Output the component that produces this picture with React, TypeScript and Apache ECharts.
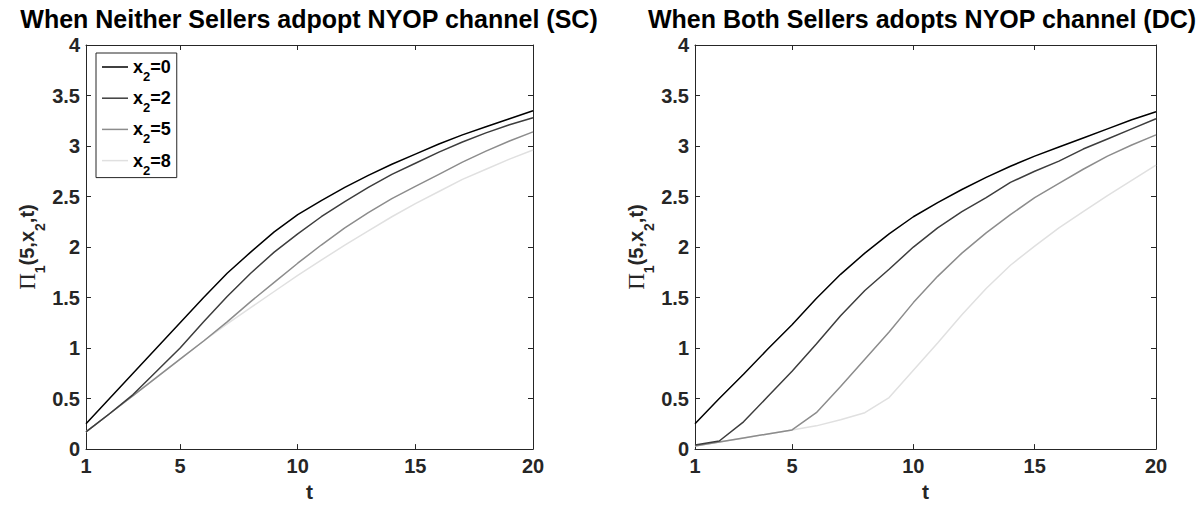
import React, { useEffect, useRef } from "react";
import * as echarts from "echarts";

const T = [1, 2, 3, 4, 5, 6, 7, 8, 9, 10, 11, 12, 13, 14, 15, 16, 17, 18, 19, 20];
const X_TICKS = [1, 5, 10, 15, 20];
const LEVELS = ["x2=0", "x2=2", "x2=5", "x2=8"];
const TITLES = ["When Neither Sellers adpopt NYOP channel (SC)", "When Both Sellers adopts NYOP channel (DC)"];

// Single channel (SC)
const SC_0 = [0.25, 0.5, 0.75, 1.0, 1.25, 1.5, 1.74, 1.95, 2.15, 2.32, 2.46, 2.59, 2.71, 2.82, 2.92, 3.02, 3.11, 3.19, 3.27, 3.35];
const SC_2 = [0.17, 0.35, 0.54, 0.77, 1.0, 1.26, 1.51, 1.74, 1.95, 2.13, 2.3, 2.45, 2.59, 2.72, 2.83, 2.94, 3.04, 3.13, 3.21, 3.28];
const SC_5 = [0.17, 0.35, 0.53, 0.71, 0.89, 1.07, 1.26, 1.46, 1.65, 1.84, 2.02, 2.19, 2.34, 2.48, 2.6, 2.72, 2.84, 2.95, 3.05, 3.14];
const SC_8 = [0.17, 0.35, 0.53, 0.71, 0.89, 1.07, 1.24, 1.4, 1.56, 1.72, 1.87, 2.02, 2.16, 2.3, 2.43, 2.55, 2.67, 2.77, 2.87, 2.96];

// Dual channel (DC)
const DC_0 = [0.25, 0.5, 0.74, 0.99, 1.23, 1.49, 1.73, 1.94, 2.13, 2.3, 2.44, 2.57, 2.69, 2.8, 2.9, 2.99, 3.08, 3.17, 3.26, 3.34];
const DC_2 = [0.04, 0.08, 0.27, 0.52, 0.77, 1.04, 1.32, 1.57, 1.78, 2.0, 2.19, 2.35, 2.49, 2.64, 2.75, 2.85, 2.97, 3.07, 3.17, 3.27];
const DC_5 = [0.03, 0.07, 0.11, 0.15, 0.19, 0.36, 0.62, 0.89, 1.16, 1.45, 1.71, 1.94, 2.14, 2.32, 2.49, 2.63, 2.77, 2.9, 3.01, 3.11];
const DC_8 = [0.03, 0.07, 0.11, 0.15, 0.19, 0.23, 0.29, 0.36, 0.51, 0.78, 1.05, 1.33, 1.59, 1.82, 2.01, 2.19, 2.35, 2.51, 2.66, 2.81];

const SC = [SC_0, SC_2, SC_5, SC_8];
const DC = [DC_0, DC_2, DC_5, DC_8];

const COLORS = ["#000000", "#3d3d3d", "#8c8c8c", "#e0e0e0"];
const AXIS = "#262626";
const SANS = "'Liberation Sans', Arial, Helvetica, sans-serif";
const SERIF = "'Liberation Serif', 'Times New Roman', serif";

const GRIDS = [
  { left: 86, top: 45, width: 447, height: 412 },
  { left: 695, top: 45, width: 461, height: 412 },
];

function buildOption() {
  const xAxis: any[] = [];
  const yAxis: any[] = [];
  const series: any[] = [];
  const lineBase = { show: true, onZero: false, lineStyle: { color: AXIS, width: 1 } };
  const tickBase = { show: true, inside: true, length: 5, lineStyle: { color: AXIS, width: 1 } };

  GRIDS.forEach((_, gi) => {
    xAxis.push({
      type: "value",
      gridIndex: gi,
      min: 1,
      max: 20,
      position: "bottom",
      axisLine: lineBase,
      axisTick: { ...tickBase, customValues: X_TICKS },
      axisLabel: {
        customValues: X_TICKS,
        color: AXIS,
        fontSize: 20,
        fontWeight: "bold",
        fontFamily: SANS,
        margin: 7,
      },
      splitLine: { show: false },
      name: "t",
      nameLocation: "middle",
      nameGap: 31,
      nameTextStyle: { color: AXIS, fontSize: 21, fontWeight: "bold", fontFamily: SANS },
    });
    xAxis.push({
      type: "value",
      gridIndex: gi,
      min: 1,
      max: 20,
      position: "top",
      axisLine: lineBase,
      axisTick: { ...tickBase, customValues: X_TICKS },
      axisLabel: { show: false },
      splitLine: { show: false },
    });
    yAxis.push({
      type: "value",
      gridIndex: gi,
      min: 0,
      max: 4,
      interval: 0.5,
      position: "left",
      axisLine: lineBase,
      axisTick: tickBase,
      axisLabel: { color: AXIS, fontSize: 20, fontWeight: "bold", fontFamily: SANS, margin: 6 },
      splitLine: { show: false },
      name: "{p|Π}{s|1}{b|(5,x}{s|2}{b|,t)}",
      nameLocation: "middle",
      nameGap: 44,
      nameTextStyle: {
        color: AXIS,
        rich: {
          p: { fontFamily: SERIF, fontSize: 23, fontWeight: "normal", color: AXIS, lineHeight: 30 },
          b: { fontFamily: SANS, fontSize: 20, fontWeight: "bold", color: AXIS, lineHeight: 30 },
          s: { fontFamily: SANS, fontSize: 14, fontWeight: "bold", color: AXIS, lineHeight: 5, height: 5, verticalAlign: "bottom" },
        },
      },
    });
    yAxis.push({
      type: "value",
      gridIndex: gi,
      min: 0,
      max: 4,
      interval: 0.5,
      position: "right",
      axisLine: lineBase,
      axisTick: tickBase,
      axisLabel: { show: false },
      splitLine: { show: false },
    });

    const sets = gi === 0 ? SC : DC;
    sets.forEach((vals, li) => {
      series.push({
        type: "line",
        name: LEVELS[li],
        xAxisIndex: gi * 2,
        yAxisIndex: gi * 2,
        data: T.map((t, i) => [t, vals[i]]),
        symbol: "none",
        smooth: false,
        lineStyle: { color: COLORS[li], width: 1.5 },
        itemStyle: { color: COLORS[li] },
        z: 10 - li,
      });
    });
  });

  return {
    animation: false,
    backgroundColor: "#ffffff",
    title: [
      {
        text: TITLES[0],
        left: 309,
        top: 6,
        padding: 0,
        textAlign: "center",
        textStyle: { color: "#000", fontSize: 25, fontWeight: "bold", fontFamily: SANS, lineHeight: 26 },
      },
      {
        text: TITLES[1],
        left: 922,
        top: 6,
        padding: 0,
        textAlign: "center",
        textStyle: { color: "#000", fontSize: 25, fontWeight: "bold", fontFamily: SANS, lineHeight: 26 },
      },
    ],
    grid: GRIDS.map((g) => ({ ...g, containLabel: false })),
    legend: {
      show: true,
      orient: "vertical",
      left: 96,
      top: 53,
      data: LEVELS,
      selectedMode: false,
      backgroundColor: "#ffffff",
      borderColor: AXIS,
      borderWidth: 1,
      borderRadius: 0,
      padding: [5, 6, 1, 6],
      itemGap: 6.2,
      itemWidth: 26,
      itemHeight: 1.5,
      icon: "rect",
      formatter: (name: string) => `{a|x}{s|2}{a|=${name.split("=")[1]}}`,
      textStyle: {
        color: "#000",
        rich: {
          a: { fontFamily: SANS, fontSize: 18, fontWeight: "bold", color: "#000", lineHeight: 24 },
          s: { fontFamily: SANS, fontSize: 13, fontWeight: "bold", color: "#000", lineHeight: 5, height: 5, verticalAlign: "bottom" },
        },
      },
    },
    xAxis,
    yAxis,
    series,
  };
}

export default function App() {
  const ref = useRef<HTMLDivElement>(null);
  useEffect(() => {
    if (!ref.current) return;
    const chart = echarts.init(ref.current, undefined, { renderer: "svg" });
    chart.setOption(buildOption() as any);
    return () => chart.dispose();
  }, []);
  return (
    <div
      ref={ref}
      style={{ position: "fixed", left: 0, top: 0, width: 1204, height: 507, background: "#fff" }}
    />
  );
}
